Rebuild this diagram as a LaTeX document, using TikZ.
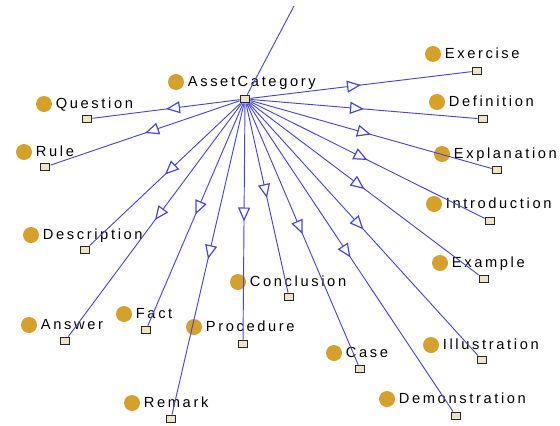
\documentclass[tikz,border=0pt]{standalone}
\usepackage{fontspec}
\setmainfont{Liberation Sans}[LetterSpace=18]
\usepackage{tikz}
\usetikzlibrary{positioning, arrows.meta, decorations.markings}
\definecolor{edgeblue}{RGB}{70,70,220}
\definecolor{dotgold}{RGB}{214,160,45}
\definecolor{boxfill}{RGB}{236,228,196}

\tikzset{
    dot/.style={circle, fill=dotgold, minimum size=12pt, inner sep=0pt},
    lbl/.style={inner sep=0pt, font=\fontsize{11}{13}\selectfont, text height=8pt, text depth=2pt},
    inst/.style={rectangle, draw=black!85, line width=1.1pt, fill=boxfill, minimum width=7pt, minimum height=5.5pt, inner sep=0pt},
    isa/.style={draw=edgeblue, line width=0.7pt, postaction={decorate},
        decoration={markings, mark=at position 0.5 with {\arrow{Triangle[fill=white, length=10.5pt, width=9pt, line width=0.9pt]}}}}
}

\begin{document}
\begin{tikzpicture}[x=0.75pt, y=-0.75pt]
        \useasboundingbox (0,0) rectangle (560,425);

        \node[dot] at (176, 82)   (ac) {};
        \node[lbl, right=2.5pt of ac] (acT) {AssetCategory};
        \node[inst] at (245, 99)  (acS) {};
        \coordinate (top) at (294, 6);

        \node[dot] at (433, 54)   (ex) {};
        \node[lbl, right=2.5pt of ex] (exT) {Exercise};
        \node[inst] at (477, 71)  (exS) {};

        \node[dot] at (44, 104)   (qu) {};
        \node[lbl, right=2.5pt of qu] (quT) {Question};
        \node[inst] at (87, 119)  (quS) {};

        \node[dot] at (437, 102)  (df) {};
        \node[lbl, right=2.5pt of df] (dfT) {Definition};
        \node[inst] at (483, 119) (dfS) {};

        \node[dot] at (24, 152)   (ru) {};
        \node[lbl, right=2.5pt of ru] (ruT) {Rule};
        \node[inst] at (45, 167)  (ruS) {};

        \node[dot] at (442, 154)  (xp) {};
        \node[lbl, right=2.5pt of xp] (xpT) {Explanation};
        \node[inst] at (497, 170) (xpS) {};

        \node[dot] at (31, 235)   (ds) {};
        \node[lbl, right=2.5pt of ds] (dsT) {Description};
        \node[inst] at (85, 250)  (dsS) {};

        \node[dot] at (434, 204)  (it) {};
        \node[lbl, right=2.5pt of it] (itT) {Introduction};
        \node[inst] at (490, 221) (itS) {};

        \node[dot] at (440, 263)  (eg) {};
        \node[lbl, right=2.5pt of eg] (egT) {Example};
        \node[inst] at (484, 279) (egS) {};

        \node[dot] at (238, 282)  (co) {};
        \node[lbl, right=2.5pt of co] (coT) {Conclusion};
        \node[inst] at (289, 297) (coS) {};

        \node[dot] at (124, 314)  (fa) {};
        \node[lbl, right=2.5pt of fa] (faT) {Fact};
        \node[inst] at (146, 330) (faS) {};

        \node[dot] at (29, 325)   (an) {};
        \node[lbl, right=2.5pt of an] (anT) {Answer};
        \node[inst] at (65, 341)  (anS) {};

        \node[dot] at (194, 327)  (pr) {};
        \node[lbl, right=2.5pt of pr] (prT) {Procedure};
        \node[inst] at (243, 344) (prS) {};

        \node[dot] at (334, 353)  (ca) {};
        \node[lbl, right=2.5pt of ca] (caT) {Case};
        \node[inst] at (360, 369) (caS) {};

        \node[dot] at (431, 345)  (il) {};
        \node[lbl, right=2.5pt of il] (ilT) {Illustration};
        \node[inst] at (482, 360) (ilS) {};

        \node[dot] at (132, 403)  (re) {};
        \node[lbl, right=2.5pt of re] (reT) {Remark};
        \node[inst] at (171, 419) (reS) {};

        \node[dot] at (387, 399)  (dm) {};
        \node[lbl, right=2.5pt of dm] (dmT) {Demonstration};
        \node[inst] at (456, 416) (dmS) {};

        \draw [edgeblue, line width=0.7pt] (acS) -- (top);
        \draw [isa] (acS) -- (exS);
        \draw [isa] (acS) -- (quS);
        \draw [isa] (acS) -- (dfS);
        \draw [isa] (acS) -- (ruS);
        \draw [isa] (acS) -- (xpS);
        \draw [isa] (acS) -- (dsS);
        \draw [isa] (acS) -- (itS);
        \draw [isa] (acS) -- (egS);
        \draw [isa] (acS) -- (coS);
        \draw [isa] (acS) -- (faS);
        \draw [isa] (acS) -- (anS);
        \draw [isa] (acS) -- (prS);
        \draw [isa] (acS) -- (caS);
        \draw [isa] (acS) -- (ilS);
        \draw [isa] (acS) -- (reS);
        \draw [isa] (acS) -- (dmS);
    \end{tikzpicture}
\end{document}
